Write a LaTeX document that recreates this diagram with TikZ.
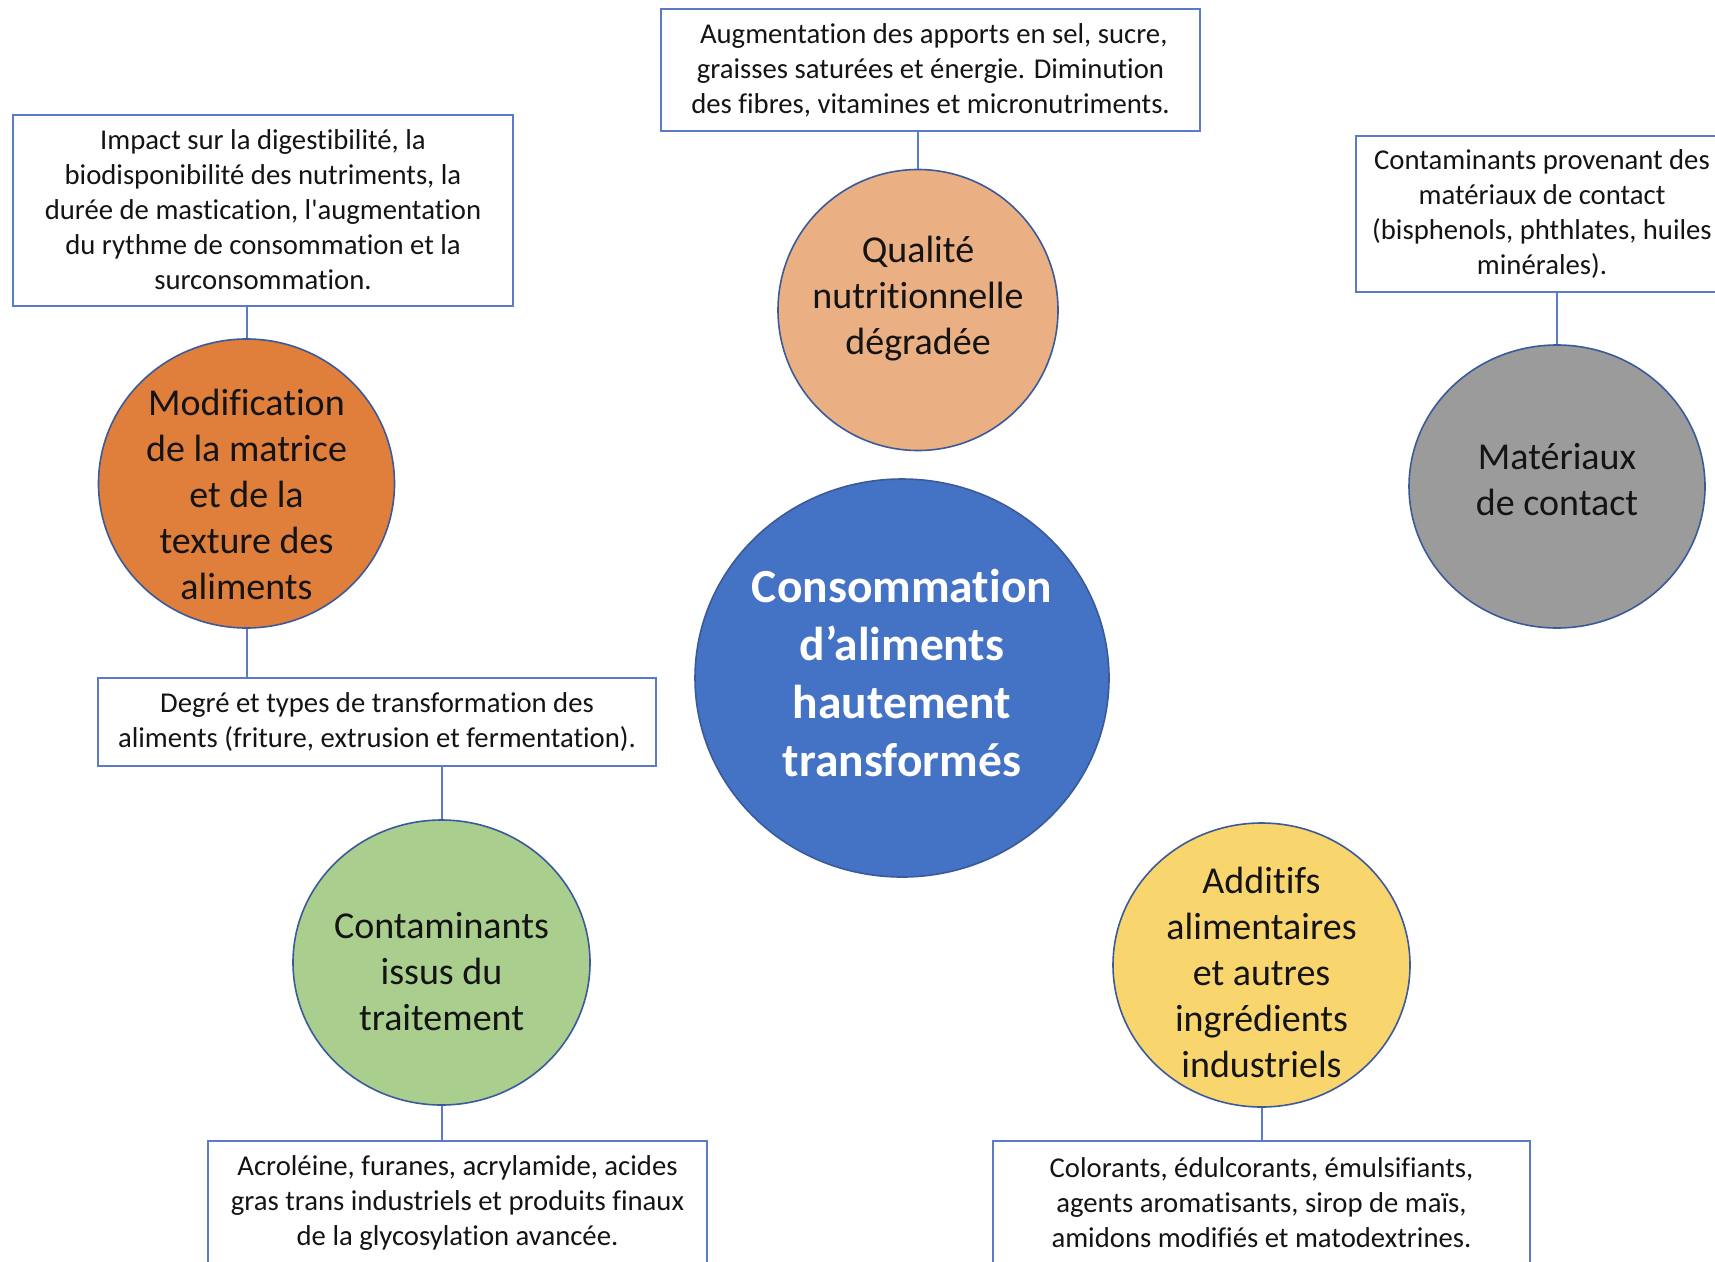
\documentclass[tikz,border=0pt]{standalone}
\usepackage{fontspec}
\setmainfont{Carlito}[Ligatures={TeXOff,CommonOff}]
\usetikzlibrary{shapes.geometric}
\definecolor{boxline}{HTML}{5B7BC8}
\definecolor{circline}{HTML}{3A5A9A}
\definecolor{cblue}{HTML}{4472C4}
\definecolor{corange}{HTML}{E07E3C}
\definecolor{cpeach}{HTML}{EAAF82}
\definecolor{cgreen}{HTML}{A9CE8E}
\definecolor{cyellow}{HTML}{F9D56E}
\definecolor{cgray}{HTML}{9B9B9B}
\definecolor{txt}{HTML}{141414}
\tikzset{
  infobox/.style={draw=boxline, line width=2pt, fill=white, rectangle, align=center, inner sep=0pt, text=txt, font=\fontsize{28.7}{35}\selectfont},
  bubble/.style={draw=circline, line width=1.6pt, ellipse, inner sep=0pt},
  bubbletext/.style={align=center, inner sep=0pt, text=txt, font=\fontsize{38}{46}\selectfont},
  link/.style={draw=boxline, line width=2pt}
}
\begin{document}
\begin{tikzpicture}[x=1pt,y=-1pt]
\useasboundingbox (0,0) rectangle (1715,1261);
\clip (0,0) rectangle (1715,1261);
\fill[white] (0,0) rectangle (1715,1261);

% boxes
\node[infobox, minimum width=539pt, minimum height=122pt] (btop) at (930.5,70)
  {\ Augmentation des apports en sel, sucre,\\graisses saturées et énergie. Diminution\\des fibres, vitamines et micronutriments.};
\node[infobox, minimum width=500pt, minimum height=191pt] (bleft) at (263,210)
  {Impact sur la digestibilité, la\\biodisponibilité des nutriments, la\\durée de mastication, l'augmentation\\du rythme de consommation et la\\surconsommation.};
\node[infobox, minimum width=558pt, minimum height=88pt] (bdeg) at (377,722)
  {Degré et types de transformation des\\aliments (friture, extrusion et fermentation).};
\node[infobox, minimum width=499pt, minimum height=124pt] (bacro) at (457.5,1203)
  {Acroléine, furanes, acrylamide, acides\\gras trans industriels et produits finaux\\de la glycosylation avancée.};
\node[infobox, minimum width=372pt, minimum height=156pt] (bmat) at (1542,214)
  {Contaminants provenant des\\matériaux de contact\\(bisphenols, phthlates, huiles\\minérales).};
\node[infobox, minimum width=537pt, minimum height=124pt] (badd) at (1261.5,1203)
  {Colorants, édulcorants, émulsifiants,\\agents aromatisants, sirop de maïs,\\amidons modifiés et matodextrines.};

% circles
\node[bubble, fill=cpeach, minimum width=280pt, minimum height=281pt] (cqual) at (918,310) {};
\node[bubbletext] (tqual) at ([yshift=11pt]cqual.center) {Qualité\\nutritionnelle\\dégradée};

\node[bubble, fill=corange, minimum width=296pt, minimum height=289pt] (cmod) at (246.5,483.5) {};
\node[bubbletext] (tmod) at ([yshift=-11pt]cmod.center) {Modification\\de la matrice\\et de la\\texture des\\aliments};

\node[bubble, fill=cblue, minimum width=414pt, minimum height=398pt] (ccent) at (902,678) {};
\node[bubbletext, text=white, font=\fontsize{47.5}{58}\selectfont\bfseries] (tcent) at ([yshift=5pt]ccent.center)
  {Consommation\\d’aliments\\hautement\\transformés};

\node[bubble, fill=cgreen, minimum width=297pt, minimum height=285pt] (ccont) at (441.5,962.5) {};
\node[bubbletext] (tcont) at ([yshift=-9pt]ccont.center) {Contaminants\\issus du\\traitement};

\node[bubble, fill=cgray, minimum width=296pt, minimum height=283pt] (cmat) at (1557,486.5) {};
\node[bubbletext] (tmat) at ([yshift=6.5pt]cmat.center) {Matériaux\\de contact};

\node[bubble, fill=cyellow, minimum width=297pt, minimum height=284pt] (cadd) at (1261.5,965) {};
\node[bubbletext] (tadd) at ([yshift=-7.5pt]cadd.center) {Additifs\\alimentaires\\et autres\\ingrédients\\industriels};

% connectors
\draw[link] (cqual.north) -- (cqual.north |- btop.south);
\draw[link] (cmod.north) -- (cmod.north |- bleft.south);
\draw[link] (cmod.south) -- (cmod.south |- bdeg.north);
\draw[link] (ccont.north) -- (ccont.north |- bdeg.south);
\draw[link] (ccont.south) -- (ccont.south |- bacro.north);
\draw[link] (cmat.north) -- (cmat.north |- bmat.south);
\draw[link] (cadd.south) -- (cadd.south |- badd.north);
\end{tikzpicture}
\end{document}
